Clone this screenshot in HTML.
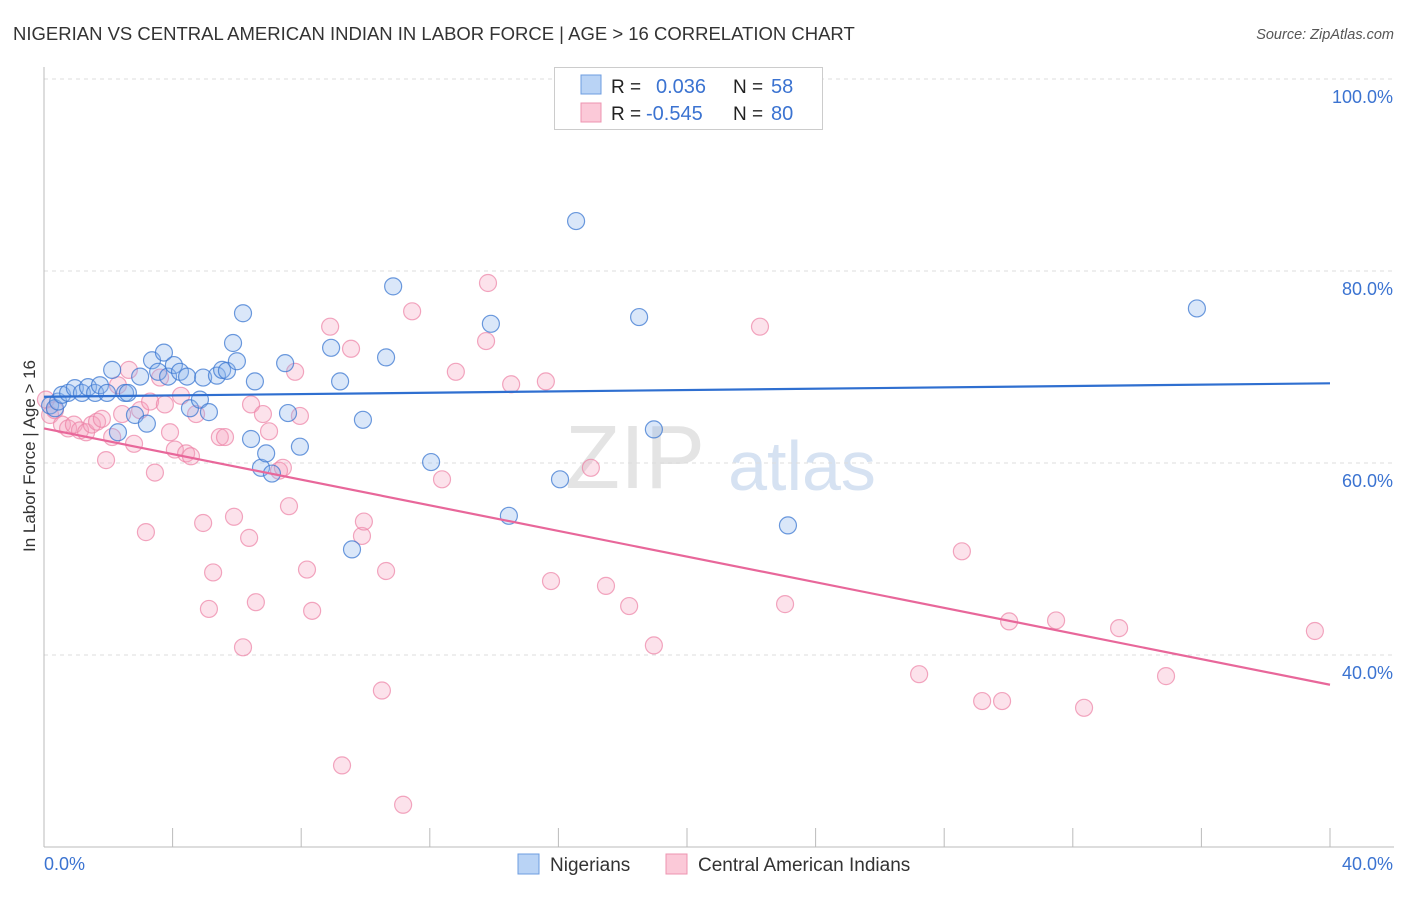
<!DOCTYPE html>
<html><head><meta charset="utf-8"><style>
body{margin:0;background:#fff;font-family:"Liberation Sans",sans-serif;}
svg text{font-family:"Liberation Sans",sans-serif;}
</style></head><body>
<svg id="chart" width="1406" height="892" xmlns="http://www.w3.org/2000/svg">
<text x="13" y="40" font-size="18.5" fill="#333">NIGERIAN VS CENTRAL AMERICAN INDIAN IN LABOR FORCE | AGE &gt; 16 CORRELATION CHART</text>
<text x="1394" y="39" font-size="14.5" fill="#555" font-style="italic" text-anchor="end">Source: ZipAtlas.com</text>
<text x="635" y="488" font-size="90" fill="#e4e4e4" font-family="Liberation Serif" text-anchor="middle">ZIP</text>
<text x="802" y="490" font-size="70" fill="#d6e2f2" text-anchor="middle">atlas</text>
<g id="grid"></g><g id="axes"></g><g id="pink"></g><g id="blue"></g><g id="lines"></g>
<text x="35" y="456" font-size="17" fill="#333" text-anchor="middle" transform="rotate(-90 35 456)">In Labor Force | Age &gt; 16</text>
<text x="44" y="870" font-size="18" fill="#3b73d1">0.0%</text>
<text x="1393" y="870" font-size="18" fill="#3b73d1" text-anchor="end">40.0%</text>
<g>
<rect x="554.5" y="67.5" width="268" height="62" fill="#fff" stroke="#ccc"/>
<rect x="581" y="75" width="20" height="19" fill="#b9d3f5" stroke="#6d9de0"/>
<rect x="581" y="103" width="20" height="19" fill="#fbc9d8" stroke="#ee94b0"/>
<text x="611" y="93" font-size="19" fill="#222">R =</text>
<text x="656" y="93" font-size="20" fill="#3b73d1">0.036</text>
<text x="733" y="93" font-size="19" fill="#222">N =</text>
<text x="771" y="93" font-size="20" fill="#3b73d1">58</text>
<text x="611" y="120" font-size="19" fill="#222">R =</text>
<text x="646" y="120" font-size="20" fill="#3b73d1">-0.545</text>
<text x="733" y="120" font-size="19" fill="#222">N =</text>
<text x="771" y="120" font-size="20" fill="#3b73d1">80</text>
</g>
<g>
<rect x="518" y="854" width="21" height="20" fill="#b9d3f5" stroke="#6d9de0"/>
<text x="550" y="871" font-size="19" fill="#333">Nigerians</text>
<rect x="666" y="854" width="21" height="20" fill="#fbc9d8" stroke="#ee94b0"/>
<text x="698" y="871" font-size="19" fill="#333">Central American Indians</text>
</g>
</svg>
<script>
const yTicks=[100,80,60,40];
const yTickLabels=["100.0%","80.0%","60.0%","40.0%"];
const xTicks=[0,4,8,12,16,20,24,28,32,36,40];
const blueX=[0.19,0.34,0.44,0.56,0.75,0.96,1.18,1.37,1.59,1.74,1.96,2.12,2.30,2.52,2.61,2.83,2.99,3.20,3.36,3.55,3.73,3.86,4.04,4.23,4.45,4.54,4.85,4.95,5.13,5.38,5.54,5.69,5.88,6.00,6.19,6.44,6.56,6.75,6.91,7.09,7.50,7.59,7.96,8.93,9.21,9.58,9.92,10.64,10.86,12.04,13.90,14.46,16.05,16.55,18.51,18.97,23.14,35.86];
const blueY=[66.0,65.7,66.4,67.1,67.3,67.8,67.3,67.9,67.3,68.1,67.3,69.7,63.2,67.3,67.3,65.0,69.0,64.1,70.7,69.5,71.5,69.0,70.2,69.5,69.0,65.7,66.6,68.9,65.3,69.1,69.7,69.6,72.5,70.6,75.6,62.5,68.5,59.5,61.0,58.9,70.4,65.2,61.7,72.0,68.5,51.0,64.5,71.0,78.4,60.1,74.5,54.5,58.3,85.2,75.2,63.5,53.5,76.1];
const pinkX=[0.06,0.19,0.34,0.56,0.75,0.93,1.12,1.31,1.49,1.65,1.80,1.93,2.12,2.30,2.43,2.64,2.80,2.99,3.17,3.30,3.45,3.61,3.76,3.92,4.07,4.26,4.42,4.57,4.73,4.95,5.13,5.26,5.47,5.63,5.91,6.19,6.38,6.44,6.59,6.81,7.00,7.31,7.43,7.62,7.81,7.96,8.18,8.34,8.90,9.27,9.55,9.89,9.95,10.51,10.64,11.17,11.45,12.38,12.81,13.75,13.81,14.53,15.61,15.77,17.01,17.48,18.20,18.97,22.27,23.05,27.22,28.55,29.18,29.80,30.02,31.48,32.35,33.44,34.90,39.53];
const pinkY=[66.6,65.0,65.5,64.0,63.6,64.0,63.4,63.2,64.0,64.3,64.6,60.3,62.7,68.1,65.1,69.7,62.0,65.5,52.8,66.4,59.0,68.9,66.1,63.2,61.4,67.0,61.0,60.7,65.1,53.75,44.8,48.6,62.7,62.7,54.4,40.8,52.2,66.1,45.5,65.1,63.3,59.2,59.5,55.5,69.5,64.9,48.9,44.6,74.2,28.5,71.9,52.4,53.9,36.3,48.75,24.4,75.8,58.3,69.5,72.7,78.75,68.2,68.5,47.7,59.5,47.2,45.1,41.0,74.2,45.3,38.0,50.8,35.2,35.2,43.5,43.6,34.5,42.8,37.8,42.5];
const blueTrend=[66.9,68.3];
const pinkTrend=[63.6,36.9];
const NS="http://www.w3.org/2000/svg";
const xs=v=>44+v/40*1286;
const ys=v=>79+(100-v)*9.6;
function mk(tag,attrs,parent){const e=document.createElementNS(NS,tag);for(const k in attrs)e.setAttribute(k,attrs[k]);document.getElementById(parent).appendChild(e);return e;}
yTicks.forEach((t,i)=>{
 const l=mk('line',{x1:44,x2:1394,y1:ys(t),y2:ys(t),stroke:'#ddd','stroke-dasharray':'4,4'},'grid');
 
 
 const tx=mk('text',{x:1393,y:ys(t)+24,'font-size':18,fill:'#3b73d1','text-anchor':'end'},'grid');
 tx.textContent=yTickLabels[i];
 
 
});
const ax=mk('line',{x1:44,x2:44,y1:67,y2:847,stroke:'#bbb'},'axes');


const bx=mk('line',{x1:44,x2:1394,y1:847,y2:847,stroke:'#bbb'},'axes');


xTicks.forEach(t=>{
 const l=mk('line',{x1:xs(t),x2:xs(t),y1:828,y2:847,stroke:'#bbb'},'axes');
 
 
});
pinkX.forEach((x,i)=>{
 const c=mk('circle',{cx:xs(x),cy:ys(pinkY[i]),r:8.5,fill:'rgba(246,160,188,0.3)',stroke:'rgba(236,130,165,0.7)','stroke-width':1.2},'pink');
 
 
});
blueX.forEach((x,i)=>{
 const c=mk('circle',{cx:xs(x),cy:ys(blueY[i]),r:8.5,fill:'rgba(140,180,235,0.32)',stroke:'rgba(60,120,210,0.75)','stroke-width':1.2},'blue');
 
 
});
const bl=mk('line',{x1:xs(0),x2:xs(40),y1:ys(blueTrend[0]),y2:ys(blueTrend[1]),stroke:'#2f6fd0','stroke-width':2.2},'lines');


const pl=mk('line',{x1:xs(0),x2:xs(40),y1:ys(pinkTrend[0]),y2:ys(pinkTrend[1]),stroke:'#e8679a','stroke-width':2.2},'lines');


</script>
</body></html>
